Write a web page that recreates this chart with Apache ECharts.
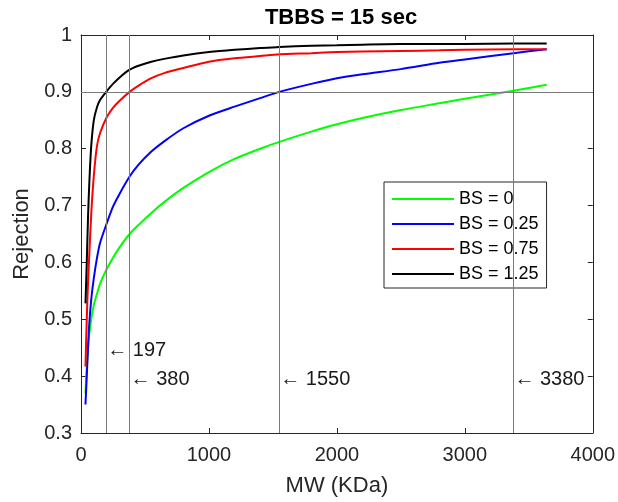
<!DOCTYPE html>
<html>
<head>
<meta charset="utf-8">
<script src="https://cdn.jsdelivr.net/npm/echarts@6/dist/echarts.min.js"></script>
<style>html,body{margin:0;padding:0;background:#fff}#c{width:618px;height:502px}</style>
</head>
<body>
<div id="c"></div>
<script>
// ---- data ----
const mw = [35, 45, 55, 65, 80, 100, 125, 150, 200, 250, 300, 380, 450, 550, 650, 800, 1000, 1200, 1400, 1550, 1800, 2000, 2200, 2500, 2800, 3000, 3380, 3640];
const bs0   = [0.370, 0.415, 0.450, 0.475, 0.500, 0.525, 0.545, 0.563, 0.588, 0.608, 0.626, 0.650, 0.666, 0.687, 0.706, 0.731, 0.759, 0.782, 0.800, 0.812, 0.830, 0.843, 0.854, 0.868, 0.880, 0.888, 0.902, 0.9125];
const bs025 = [0.350, 0.400, 0.450, 0.493, 0.535, 0.572, 0.608, 0.635, 0.668, 0.698, 0.720, 0.751, 0.772, 0.795, 0.813, 0.836, 0.858, 0.874, 0.889, 0.900, 0.914, 0.924, 0.931, 0.940, 0.951, 0.957, 0.968, 0.975];
const bs075 = [0.417, 0.500, 0.565, 0.615, 0.685, 0.752, 0.805, 0.828, 0.855, 0.872, 0.884, 0.900, 0.911, 0.924, 0.933, 0.942, 0.953, 0.959, 0.963, 0.966, 0.968, 0.970, 0.971, 0.972, 0.973, 0.974, 0.975, 0.975];
const bs125 = [0.528, 0.600, 0.680, 0.740, 0.805, 0.850, 0.873, 0.886, 0.901, 0.914, 0.925, 0.939, 0.946, 0.953, 0.958, 0.964, 0.970, 0.974, 0.977, 0.979, 0.981, 0.982, 0.983, 0.984, 0.984, 0.984, 0.985, 0.985];
const seriesNames = ['BS = 0', 'BS = 0.25', 'BS = 0.75', 'BS = 1.25'];
const seriesColors = ['#00ff00', '#0000ff', '#ff0000', '#000000'];
const refX = [197, 380, 1550, 3380];
const refY = [0.9];
const annY = [0.445, 0.395, 0.395, 0.395];
const xTicks = [0, 1000, 2000, 3000, 4000];
const yTicks = [0.3, 0.4, 0.5, 0.6, 0.7, 0.8, 0.9, 1];

const FONT = '"Liberation Sans", Arial, Helvetica, sans-serif';
const TXT = '#262626';
const allSeries = [bs0, bs025, bs075, bs125];

const chart = echarts.init(document.getElementById('c'), null, {renderer: 'canvas'});
const pair = (xs, ys) => xs.map((x, i) => [x, ys[i]]);

const series = [];
// reference lines
series.push({
  type: 'line', data: [], silent: true, z: 1,
  markLine: {
    silent: true, symbol: ['none', 'none'], animation: false,
    label: {show: false},
    lineStyle: {color: '#7a7a7a', width: 1, type: 'solid'},
    emphasis: {disabled: true},
    data: refX.map(v => ({xAxis: v})).concat(refY.map(v => ({yAxis: v})))
  }
});
allSeries.forEach((d, i) => {
  series.push({
    name: seriesNames[i], type: 'line', data: pair(mw, d),
    symbol: 'none', showSymbol: false, smooth: 0.25, z: 3,
    lineStyle: {color: seriesColors[i], width: 2},
    itemStyle: {color: seriesColors[i]},
    animation: false
  });
});
// annotations
series.push({
  type: 'scatter', symbolSize: 0, z: 4, silent: true, animation: false,
  data: pair(refX, annY),
  itemStyle: {color: '#000', opacity: 1},
  label: {
    show: true, position: 'right', distance: 1,
    formatter: p => '\u2190 ' + p.value[0],
    fontFamily: FONT, fontSize: 20, color: '#1a1a1a', opacity: 1
  }
});

const axisLineStyle = {lineStyle: {color: TXT, width: 1}};
chart.setOption({
  backgroundColor: '#fff',
  animation: false,
  title: {
    text: 'TBBS = 15 sec', left: 336, top: 2, textAlign: 'center',
    textStyle: {fontFamily: FONT, fontSize: 22, fontWeight: 'bold', color: '#000'}
  },
  grid: {left: 81, right: 25, top: 35, bottom: 69, containLabel: false},
  legend: {
    orient: 'vertical', left: 384, top: 182,
    data: seriesNames, selectedMode: false,
    itemWidth: 62, itemHeight: 14, itemGap: 7, padding: [8, 8, 5, 7],
    itemStyle: {opacity: 0},
    borderColor: TXT, borderWidth: 1, backgroundColor: '#fff',
    textStyle: {fontFamily: FONT, fontSize: 18, color: '#000'}
  },
  xAxis: [{
    type: 'value', min: xTicks[0], max: xTicks[xTicks.length - 1], interval: 1000,
    name: 'MW (KDa)', nameLocation: 'middle', nameGap: 42,
    nameTextStyle: {fontFamily: FONT, fontSize: 22, color: TXT},
    axisLine: {show: true, onZero: false, ...axisLineStyle},
    axisTick: {show: true, inside: true, length: 5, lineStyle: {color: TXT}},
    axisLabel: {fontFamily: FONT, fontSize: 20, color: TXT, margin: 12,
      formatter: v => String(v)},
    splitLine: {show: false}
  }, {
    type: 'value', position: 'top', min: 0, max: 4000, interval: 1000,
    axisLine: {show: true, onZero: false, ...axisLineStyle},
    axisTick: {show: true, inside: true, length: 5, lineStyle: {color: TXT}},
    axisLabel: {show: false}, splitLine: {show: false}
  }],
  yAxis: [{
    type: 'value', min: yTicks[0], max: yTicks[yTicks.length - 1], interval: 0.1,
    name: 'Rejection', nameLocation: 'middle', nameGap: 45,
    nameTextStyle: {fontFamily: FONT, fontSize: 22, color: TXT},
    axisLine: {show: true, onZero: false, ...axisLineStyle},
    axisTick: {show: true, inside: true, length: 5, lineStyle: {color: TXT}},
    axisLabel: {fontFamily: FONT, fontSize: 20, color: TXT, margin: 9,
      formatter: v => String(+v.toFixed(1))},
    splitLine: {show: false}
  }, {
    type: 'value', position: 'right', min: 0.3, max: 1, interval: 0.1,
    axisLine: {show: true, onZero: false, ...axisLineStyle},
    axisTick: {show: true, inside: true, length: 5, lineStyle: {color: TXT}},
    axisLabel: {show: false}, splitLine: {show: false}
  }],
  series: series
});
</script>
</body>
</html>
